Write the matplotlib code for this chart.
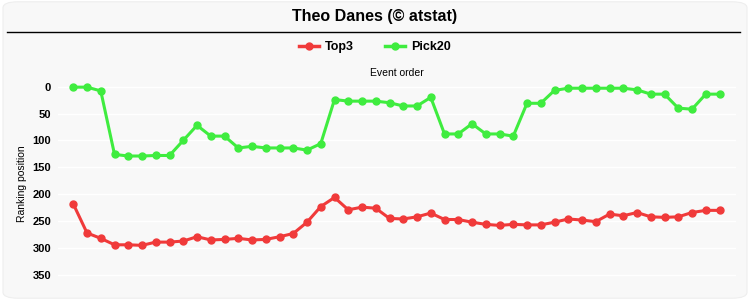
import matplotlib
matplotlib.use("Agg")
import matplotlib.pyplot as plt
from matplotlib.patches import FancyBboxPatch
from matplotlib.lines import Line2D

title = "Theo Danes (© atstat)"
series_names = ["Top3", "Pick20"]
top3 = [218, 272, 282, 294, 294, 295, 289, 289, 287, 279, 285, 284, 282, 285, 284, 279,
        273, 252, 223, 206, 229, 224, 226, 245, 246, 242, 235, 247, 247, 252, 256, 258,
        256, 257, 257, 252, 246, 248, 251, 237, 240, 234, 242, 243, 242, 234, 230, 230]
pick20 = [1, 1, 8, 126, 129, 129, 128, 128, 100, 72, 92, 92, 114, 111, 114, 114,
          114, 118, 106, 24, 27, 27, 27, 30, 36, 36, 20, 88, 88, 69, 88, 88,
          92, 31, 31, 7, 3, 3, 3, 3, 3, 6, 14, 14, 40, 42, 14, 14]
yticks = [0, 50, 100, 150, 200, 250, 300, 350]
colors = ["#f03a3a", "#3fec3f"]

plt.rcParams['font.family'] = ['Liberation Sans', 'DejaVu Sans']
fig = plt.figure(figsize=(7.5, 3), dpi=100)
fig.patch.set_facecolor("white")
bg = FancyBboxPatch((0.004, 0.006), 0.992, 0.988, boxstyle="round,pad=0,rounding_size=0.02",
                    transform=fig.transFigure, facecolor="#f8f8f8", edgecolor="#eeeeee",
                    linewidth=0.8, zorder=-5)
fig.patches.append(bg)

ax = fig.add_axes([58/750, 1-290/300, (736-58)/750, (290-78)/300])
ax.set_zorder(2)
ax.set_facecolor("#f8f8f8")
x = list(range(len(top3)))
for vals, c in zip([top3, pick20], colors):
    ax.plot(x, vals, color=c, lw=2.2, marker="o", ms=5, mec=c, mfc=c, zorder=3)
ax.set_xlim(-1.11, 48.2)
ax.set_ylim(378, -16)
ax.set_yticks(yticks)
ax.set_yticklabels([str(v) for v in yticks], fontweight="bold", fontsize=8)
ax.set_xticks([])
ax.tick_params(axis="y", length=0, pad=5)
for v in yticks:
    ax.axhline(v, color="white", lw=1, zorder=1)
for s in ax.spines.values():
    s.set_visible(False)
ax.set_ylabel("Ranking position", fontsize=7.5, labelpad=4)
fig.text(397/750, 1-73/300, "Event order", ha="center", va="center", fontsize=7.5)

fig.text(375/750, 1-16/300, title, ha="center", va="center", fontsize=11.5, fontweight="bold")
fig.add_artist(Line2D([7/750, 740/750], [1-32/300, 1-32/300], color="black", lw=1))

handles = [Line2D([], [], color=c, lw=2.5, marker="o", ms=5) for c in colors]
leg = fig.legend(handles, series_names, loc="center", bbox_to_anchor=(375/750, 1-47/300),
                 ncol=2, frameon=False, prop={"weight": "bold", "size": 9},
                 handlelength=1.6, columnspacing=2.5, handletextpad=0.5)

fig.savefig("out.png", dpi=100)
